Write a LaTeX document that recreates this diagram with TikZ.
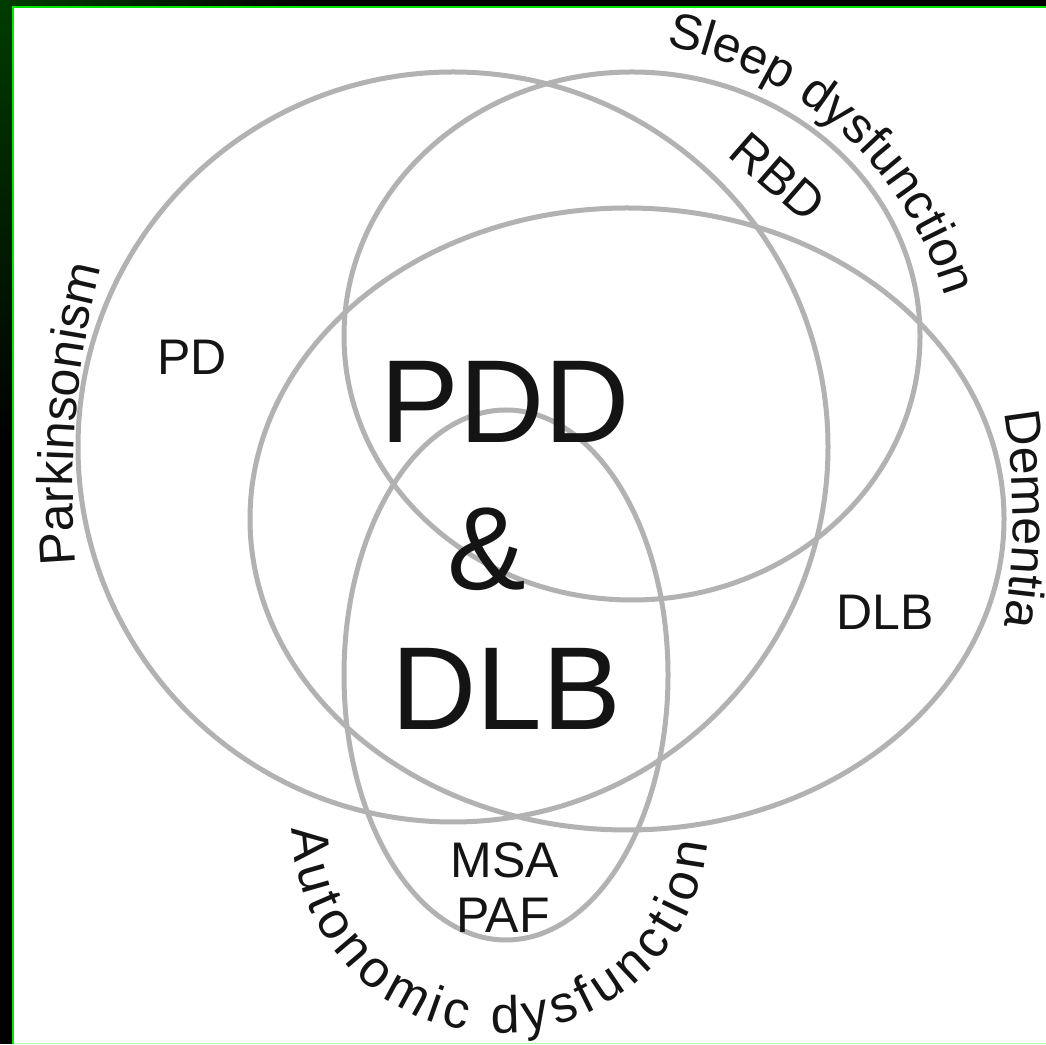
\documentclass[tikz,border=0pt]{standalone}
\usepackage{fontspec}
\setmainfont{Liberation Sans}
\usetikzlibrary{decorations.text}
\definecolor{ringgray}{RGB}{178,178,178}
\definecolor{framegreen}{RGB}{0,230,0}
\definecolor{darkgreen}{RGB}{0,60,0}
\definecolor{txt}{RGB}{20,20,20}
\newcommand\labfont{\fontsize{50pt}{60pt}\selectfont}
\newcommand\bigfont{\fontsize{118pt}{130pt}\selectfont}
\newcommand\arcfont{\fontsize{52pt}{60pt}\selectfont}
\begin{document}
\begin{tikzpicture}[x=1pt,y=1pt,
  ring/.style={draw=ringgray,line width=5pt},
  lab/.style={text=txt,font=\labfont,inner sep=0pt},
  biglab/.style={text=txt,font=\bigfont,inner sep=0pt,anchor=base},
  arclab/.style={decorate,decoration={text along path,text color=txt,text align=center}}]
\useasboundingbox (0,0) rectangle (1046,1044);
% frame
\fill[black] (0,0) rectangle (1046,1044);
\shade[top color=darkgreen,bottom color=black] (0,600) rectangle (13,1044);
\shade[left color=darkgreen,right color=black] (0,1037) rectangle (300,1044);
\fill[white] (14,0) rectangle (1046,1036);
\draw[framegreen,line width=2pt] (13,0) -- (13,1037) -- (1046,1037);
\draw[green!30,line width=1.5pt] (14,0.75) -- (1046,0.75);
% rings
\draw[ring] (453,597) ellipse[x radius=375pt,y radius=375pt];
\draw[ring] (632,708) ellipse[x radius=288pt,y radius=264pt];
\draw[ring] (627,525) ellipse[x radius=377pt,y radius=311pt];
\draw[ring] (506,369) ellipse[x radius=162pt,y radius=265pt];
% labels
\node[lab,anchor=base] (pd) at (192,669) {PD};
\node[lab,anchor=base] (dlbs) at (885,414) {DLB};
\node[lab,anchor=base] (msa) at (505,167) {MSA};
\node[lab,anchor=base] (paf) at (503,112) {PAF};
\node[lab,rotate=-41] (rbd) at (778,867) {RBD};
\node[biglab] (pdd) at (505,601) {PDD};
\node[biglab] (amp) at (487,454) {\&};
\node[biglab] (dlb) at (506,314) {DLB};
% curved labels
\path[arclab,decoration={text={|\labfont|Sleep dysfunction}}]
  (600,644) ++(79:360pt) arc[start angle=79,end angle=17,radius=360pt];
\path[arclab,decoration={text={|\labfont|Parkinsonism}}]
  (973,554) ++(185.4:900pt) arc[start angle=185.4,end angle=165,radius=900pt];
\path[arclab,decoration={text={|\labfont|Dementia}}]
  (373,525) ++(10.3:640pt) arc[start angle=10.3,end angle=-10.3,radius=640pt];
\path[decorate,decoration={text along path,text color=txt,text align=fit to path,text={|\arcfont|Autonomic dysfunction}}]
  (500,219) ++(181:208pt) arc[start angle=181,end angle=355,radius=208pt];
\end{tikzpicture}
\end{document}
